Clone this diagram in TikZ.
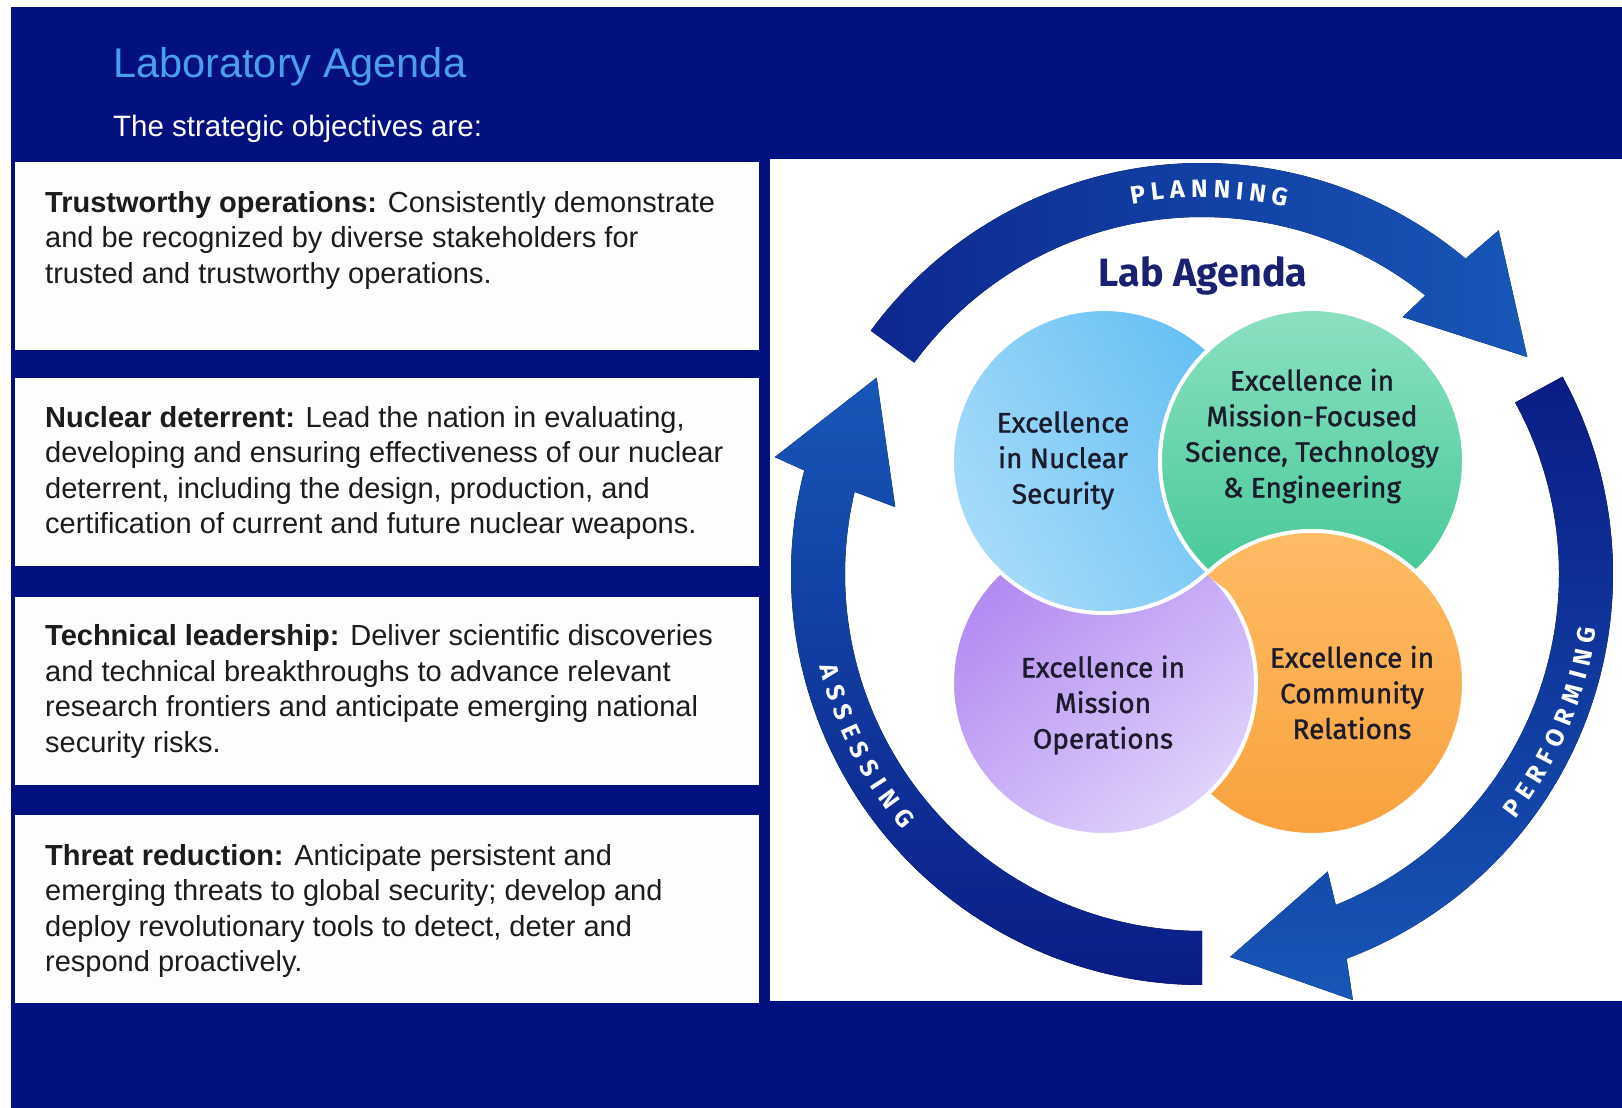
\documentclass[tikz,border=0pt]{standalone}
\usepackage{fontspec}
\setmainfont{Liberation Sans}
\newfontfamily\vennfont[FakeBold=1.3]{Fira Sans}
\newfontfamily\headfont{Fira Sans}
\usetikzlibrary{calc}

\definecolor{navy}{HTML}{02117F}
\definecolor{titleblue}{HTML}{4A9FEC}
\definecolor{ink}{HTML}{1C1C1C}
\definecolor{boxwhite}{HTML}{FDFDFB}
\definecolor{arrdark}{HTML}{0A1C86}
\definecolor{arrlight}{HTML}{1757B7}
\definecolor{blueA}{HTML}{A6DBF9}
\definecolor{blueB}{HTML}{64BFF3}
\definecolor{greenA}{HTML}{8CE0C1}
\definecolor{greenB}{HTML}{3EC693}
\definecolor{purpA}{HTML}{B189F1}
\definecolor{purpB}{HTML}{E0D1FB}
\definecolor{orA}{HTML}{FFBB64}
\definecolor{orB}{HTML}{F8A23E}
\definecolor{vink}{HTML}{1B1B2C}
\definecolor{labink}{HTML}{1A2173}

\tikzset{
  objbox/.style={fill=boxwhite, draw=none, minimum width=744, minimum height=188,
    anchor=north west, inner sep=0},
  objtext/.style={anchor=north west, inner sep=0, align=left, text=ink,
    font=\fontsize{29}{35.6}\selectfont},
  venn/.style={draw=white, line width=4},
  vtext/.style={align=center, inner sep=0, text=vink,
    font=\vennfont\fontsize{28}{35.6}\selectfont},
  arcletter/.style={inner sep=0, text=white,
    font=\headfont\bfseries\fontsize{25}{25}\selectfont},
}

\begin{document}
\begin{tikzpicture}[x=1pt,y=1pt]
\useasboundingbox (0,0) rectangle (1622,1108);
\fill[white] (0,0) rectangle (1622,1108);
\fill[navy] (11,0) rectangle (1622,1101);

% heading
\node[anchor=base west, inner sep=0, text=titleblue,
  font=\fontsize{41.5}{48}\selectfont] (title) at (113,1030) {Laboratory Agenda};
\node[anchor=base west, inner sep=0, text=white,
  font=\fontsize{29.5}{35}\selectfont] (subtitle) at (113,971.5) {The strategic objectives are:};

% objective cards
\node[objbox] (card1) at (15,946) {};
\node[objbox] (card2) at (15,730.5) {};
\node[objbox] (card3) at (15,511.5) {};
\node[objbox] (card4) at (15,293) {};

\node[objtext] (txt1) at (45,921) {\rule{0pt}{25pt}\textbf{Trustworthy operations:} Consistently demonstrate\\
and be recognized by diverse stakeholders for\\
trusted and trustworthy operations.};
\node[objtext] (txt2) at (45,706) {\rule{0pt}{25pt}\textbf{Nuclear deterrent:} Lead the nation in evaluating,\\
developing and ensuring effectiveness of our nuclear\\
deterrent, including the design, production, and\\
certification of current and future nuclear weapons.};
\node[objtext] (txt3) at (45,487.5) {\rule{0pt}{25pt}\textbf{Technical leadership:} Deliver scientific discoveries\\
and technical breakthroughs to advance relevant\\
research frontiers and anticipate emerging national\\
security risks.};
\node[objtext] (txt4) at (45,268) {\rule{0pt}{25pt}\textbf{Threat reduction:} Anticipate persistent and\\
emerging threats to global security; develop and\\
deploy revolutionary tools to detect, deter and\\
respond proactively.};

% agenda panel
\fill[white] (770,107) rectangle (1622,949);
\coordinate (C) at (1202,534);

% cycle arrows
\fill[left color=arrdark!80!arrlight, right color=arrlight]
  ($(C)+(143.7:411)$) arc[start angle=143.7, end angle=50.1, radius=411]
  -- ($(C)+(49.2:454)$) -- ($(C)+(33.7:391)$) -- ($(C)+(52:326)$)
  -- ($(C)+(51.3:357)$) arc[start angle=51.3, end angle=143.7, radius=357] -- cycle;
\fill[top color=arrdark, bottom color=arrlight]
  ($(C)+(28.7:411)$) arc[start angle=28.7, end angle=-69.4, radius=411]
  -- ($(C)+(-70.5:452)$) -- ($(C)+(-85.8:384)$) -- ($(C)+(-67.1:323)$)
  -- ($(C)+(-68:357)$) arc[start angle=-68, end angle=28.7, radius=357] -- cycle;
\fill[bottom color=arrdark, top color=arrlight]
  ($(C)+(270:411)$) arc[start angle=270, end angle=165.4, radius=411]
  -- ($(C)+(164.7:443)$) -- ($(C)+(148.9:380)$) -- ($(C)+(167.7:314)$)
  -- ($(C)+(166.7:357)$) arc[start angle=166.7, end angle=270, radius=357] -- cycle;

% cycle labels, one letter at a time along the ring
\foreach \ch/\d [count=\i] in {P/0,L/19.6,A/39.7,N/61.9,N/84.6,I/102.55,N/120.5,G/142.95}
  \node[arcletter, rotate={99.6-\d*0.1488-90}] (plan\i)
    at ($(C)+({99.6-\d*0.1488}:385)$) {\ch};
\foreach \ch/\d [count=\i] in {P/0,E/20.11,R/40.47,F/60.58,O/81.84,R/104.25,M/128.36,I/148.47,N/166.48,G/188.99}
  \node[arcletter, rotate={-36.9+\d*0.1471+90}] (perf\i)
    at ($(C)+({-36.9+\d*0.1471}:389.5)$) {\ch};
\foreach \ch/\d [count=\i] in {A/0,S/21.86,S/42.84,E/63.54,S/84.25,S/105.23,I/122.83,N/141.81,G/165.29}
  \node[arcletter, rotate={194.7+\d*0.1488+90}] (asse\i)
    at ($(C)+({194.7+\d*0.1488}:385)$) {\ch};

\node[anchor=base, inner sep=0, text=labink,
  font=\headfont\bfseries\fontsize{39.5}{40}\selectfont] (lab) at (1203,821.5) {Lab Agenda};

% four overlapping circles, each one over its clockwise neighbour
\coordinate (cB) at (1104,647);
\coordinate (cG) at (1312,647);
\coordinate (cP) at (1104,425);
\coordinate (cO) at (1312,425);
\path[venn, top color=orA, bottom color=orB] (cO) circle[radius=152];
\path[venn, top color=purpA, bottom color=purpB, shading angle=40] (cP) circle[radius=152];
\path[venn, top color=blueA, bottom color=blueB, shading angle=120] (cB) circle[radius=152];
\path[venn, top color=greenA, bottom color=greenB] (cG) circle[radius=152];
\begin{scope}
  \clip (cG) circle[radius=154.5];
  \path[venn, top color=orA, bottom color=orB] (cO) circle[radius=152];
\end{scope}

\node[vtext] (nucsec) at (1063,647.5) {Excellence\\in Nuclear\\Security};
\node[vtext] (mfst) at (1312,672) {Excellence in\\Mission-Focused\\Science, Technology\\\& Engineering};
\node[vtext] (misops) at (1103,403) {Excellence in\\Mission\\Operations};
\node[vtext] (comrel) at (1352,415.5) {Excellence in\\Community\\Relations};
\end{tikzpicture}
\end{document}
